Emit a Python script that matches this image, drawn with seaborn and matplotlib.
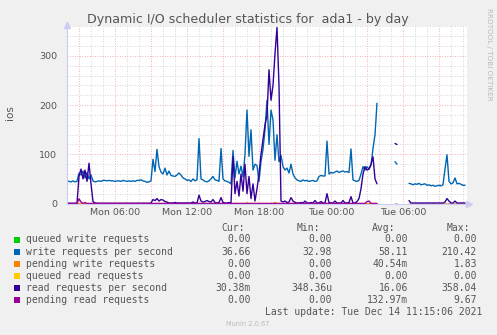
import numpy as np
import pandas as pd
import matplotlib
matplotlib.use("Agg")
import matplotlib.pyplot as plt
import matplotlib.dates as mdates
from matplotlib.ticker import MultipleLocator, FuncFormatter
from matplotlib.patches import Rectangle
import seaborn as sns

nan = float("nan")

# ---- data (10-minute samples starting Mon 2021-12-13 02:00) ----
start_time = "2021-12-13 02:00"
step = "10min"

write_rps = [
    46, 45, 44, 46, 44, 45, 62, 58, 66, 52,
    63, 50, 58, 46, 44, 45, 46, 45, 47, 47,
    46, 47, 46, 46, 45, 46, 46, 45, 47, 46,
    45, 46, 45, 46, 45, 47, 47, 48, 46, 45,
    43, 44, 46, 90, 65, 110, 75, 64, 60, 72,
    58, 66, 57, 56, 55, 58, 62, 58, 52, 50,
    47, 48, 45, 50, 46, 48, 132, 50, 48, 45,
    44, 46, 50, 55, 48, 47, 45, 112, 50, 46,
    45, 43, 40, 108, 52, 86, 60, 76, 54, 100,
    190, 96, 150, 68, 80, 77, 45, 85, 110, 150,
    210, 120, 190, 170, 88, 140, 85, 98, 75, 68,
    72, 62, 80, 60, 52, 48, 46, 45, 48, 46,
    47, 45, 46, 47, 45, 46, 55, 57, 56, 56,
    127, 60, 63, 62, 64, 66, 63, 65, 66, 64,
    65, 63, 111, 48, 46, 45, 47, 60, 75, 68,
    75, 70, 78, 112, 140, 204, nan, nan, nan, nan,
    nan, nan, nan, nan, 85, 80, nan, nan, nan, nan,
    nan, 41, 40, 38, 40, 39, 41, 38, 39, 40,
    37, 38, 36, 37, 35, 36, 37, 36, 38, 70,
    99, 45, 40, 42, 52, 40, 41, 39, 37, 37,
]

read_rps = [
    0.5, 0.4, 0.5, 0.3, 0.5, 0.4, 55, 70, 50, 68,
    45, 82, 40, 4, 1, 0.5, 0.4, 0.5, 0.3, 0.4,
    0.5, 0.3, 0.4, 0.5, 0.4, 0.3, 0.5, 0.4, 0.3, 0.5,
    0.4, 0.3, 0.5, 0.4, 0.3, 0.5, 0.4, 0.3, 0.5, 0.4,
    0.5, 0.4, 1, 8, 6, 10, 5, 8, 7, 4,
    3, 1, 1, 1, 2, 1, 1, 1, 1, 1,
    1, 1, 1, 3, 1, 1, 17, 5, 3, 4,
    6, 4, 3, 8, 2, 1, 2, 12, 2, 1,
    1, 2, 1, 95, 20, 45, 15, 60, 25, 80,
    20, 55, 10, 40, 5, 30, 60, 100, 130, 160,
    180, 272, 210, 240, 305, 358, 240, 5, 3, 5,
    2, 3, 12, 5, 2, 1, 1, 2, 1, 5,
    1, 1, 2, 1, 6, 1, 1, 4, 1, 1,
    20, 2, 1, 1, 5, 1, 1, 1, 6, 1,
    1, 2, 14, 1, 1, 4, 10, 30, 60, 75,
    68, 70, 80, 95, 50, 40, nan, nan, nan, nan,
    nan, nan, nan, nan, 122, 120, nan, nan, nan, nan,
    nan, 6, 1, 1, 1, 1, 1, 1, 1, 1,
    1, 1, 1, 1, 1, 1, 1, 1, 1, 3,
    10, 5, 1, 1, 5, 1, 1, 1, 1, 1,
]

# sparse non-zero samples (index -> value) of the small series
pending_read_peaks = {6: 9.67, 7: 3, 9: 2, 150: 4, 151: 5}
pending_write_peaks = {90: 1.0, 104: 1.83}
queued_write_peaks = {}
queued_read_peaks = {}

series_labels = [
    "queued write requests",
    "write requests per second",
    "pending write requests",
    "queued read requests",
    "read requests per second",
    "pending read requests",
]
series_colors = ["#00CC00", "#0066B3", "#FF8000", "#FFCC00", "#330099", "#990099"]
cur_vals = ["0.00", "36.66", "0.00", "0.00", "30.38m", "0.00"]
min_vals = ["0.00", "32.98", "0.00", "0.00", "348.36u", "0.00"]
avg_vals = ["0.00", "58.11", "40.54m", "0.00", "16.06", "132.97m"]
max_vals = ["0.00", "210.42", "1.83", "0.00", "358.04", "9.67"]

title = "Dynamic I/O scheduler statistics for  ada1 - by day"
last_update = "Last update: Tue Dec 14 11:15:06 2021"

# ---- build series ----
n = len(write_rps)
times = pd.date_range(start_time, periods=n, freq=step)
gap = np.isnan(np.array(write_rps, dtype=float))


def sparse(peaks):
    arr = np.zeros(n)
    for k, v in peaks.items():
        arr[k] = v
    arr[gap] = np.nan
    return arr


series_values = [
    sparse(queued_write_peaks),
    np.array(write_rps, dtype=float),
    sparse(pending_write_peaks),
    sparse(queued_read_peaks),
    np.array(read_rps, dtype=float),
    sparse(pending_read_peaks),
]

# ---- figure ----
sns.set_theme(style="white")
plt.rcParams["font.family"] = ["DejaVu Sans"]

W, H = 497, 335
fig = plt.figure(figsize=(W / 100, H / 100), dpi=100, facecolor="#F0F0F0")
ax = fig.add_axes([67 / W, 1 - 203.5 / H, 400 / W, 178 / H])
ax.set_facecolor("white")

for vals, col in zip(series_values, series_colors):
    df = pd.DataFrame({"time": times, "value": vals})
    df["seg"] = df["value"].isna().cumsum()
    df = df.dropna()
    sns.lineplot(data=df, x="time", y="value", units="seg", estimator=None,
                 color=col, linewidth=1.0, ax=ax, legend=False)

ax.set_xlim(pd.Timestamp("2021-12-13 02:00"), pd.Timestamp("2021-12-14 11:20"))
ax.set_ylim(0, 362)

ax.xaxis.set_major_locator(mdates.HourLocator(byhour=range(0, 24, 3)))
ax.xaxis.set_minor_locator(mdates.HourLocator())


def fmt(x, pos):
    d = mdates.num2date(x)
    return d.strftime("%a %H:%M") if d.hour % 6 == 0 else ""


ax.xaxis.set_major_formatter(FuncFormatter(fmt))
ax.yaxis.set_major_locator(MultipleLocator(100))
ax.yaxis.set_minor_locator(MultipleLocator(20))

ax.set_axisbelow(True)
ax.grid(which="minor", color="#C8C8C8", linestyle=(0, (1, 2)), linewidth=0.6)
ax.grid(which="major", color="#EE9999", linestyle=(0, (1, 2)), linewidth=0.6)

ax.tick_params(axis="both", which="both", length=0, colors="#555555", labelsize=6.8)
ax.tick_params(axis="y", pad=7)
ax.tick_params(axis="x", pad=3)
ax.set_xlabel("")
ax.set_ylabel("")

for s in ["top", "right"]:
    ax.spines[s].set_visible(False)
for s in ["left", "bottom"]:
    ax.spines[s].set_color("#CCCCF5")
    ax.spines[s].set_linewidth(0.8)

# axis arrows
ax.plot([0], [1.005], marker="^", ms=4, color="#CCCCF5", transform=ax.transAxes, clip_on=False)
ax.plot([1.005], [0], marker=">", ms=4, color="#CCCCF5", transform=ax.transAxes, clip_on=False)

# ---- texts ----
def fy(py):
    return 1 - py / H


fig.text(248 / W, fy(19), title, ha="center", va="center", fontsize=9.1, color="#555555")
fig.text(10 / W, fy(113), "ios", ha="center", va="center", rotation=90, fontsize=7.5, color="#555555")
fig.text(489 / W, fy(54), "RRDTOOL / TOBI OETIKER", ha="center", va="center", rotation=270,
         fontsize=5.2, color="#BBBBBB")

mono = "DejaVu Sans Mono"
fs = 7
tc = "#555555"
header_y = 228
fig.text(245 / W, fy(header_y), "Cur:", ha="right", va="center", family=mono, fontsize=fs, color=tc)
fig.text(320 / W, fy(header_y), "Min:", ha="right", va="center", family=mono, fontsize=fs, color=tc)
fig.text(395 / W, fy(header_y), "Avg:", ha="right", va="center", family=mono, fontsize=fs, color=tc)
fig.text(470 / W, fy(header_y), "Max:", ha="right", va="center", family=mono, fontsize=fs, color=tc)

row_y0, row_dy = 239.5, 12.05
for i, (lab, col) in enumerate(zip(series_labels, series_colors)):
    y = row_y0 + i * row_dy
    fig.patches.append(Rectangle((14 / W, fy(y + 3)), 6 / W, 6 / H, transform=fig.transFigure,
                                 facecolor=col, edgecolor="none"))
    fig.text(26 / W, fy(y), lab, ha="left", va="center", family=mono, fontsize=fs, color=tc)
    fig.text(251 / W, fy(y), cur_vals[i], ha="right", va="center", family=mono, fontsize=fs, color=tc)
    fig.text(332 / W, fy(y), min_vals[i], ha="right", va="center", family=mono, fontsize=fs, color=tc)
    fig.text(408 / W, fy(y), avg_vals[i], ha="right", va="center", family=mono, fontsize=fs, color=tc)
    fig.text(477 / W, fy(y), max_vals[i], ha="right", va="center", family=mono, fontsize=fs, color=tc)

fig.text(482 / W, fy(311.7), last_update, ha="right", va="center", family=mono, fontsize=fs, color=tc)
fig.text(248 / W, fy(324), "Munin 2.0.67", ha="center", va="center", fontsize=4.8, color="#BBBBBB")

fig.savefig("out.png", dpi=100, facecolor=fig.get_facecolor())
